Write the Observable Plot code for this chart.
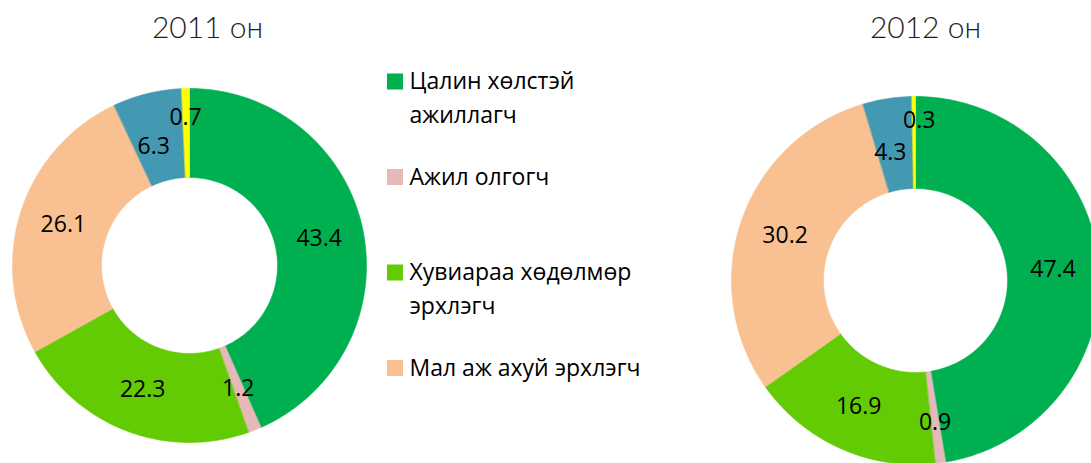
<!DOCTYPE html>
<html><head><meta charset="utf-8">
<script src="https://cdn.jsdelivr.net/npm/d3@7"></script>
<script src="https://cdn.jsdelivr.net/npm/@observablehq/plot@0.6"></script>
<style>body{margin:0;background:#fff}svg{display:block}</style>
</head><body><div id="chart"></div>
<script>
// ---- data ----
const years = ["2011 он", "2012 он"];
const categories = ["Цалин хөлстэй\nажиллагч", "Ажил олгогч", "Хувиараа хөдөлмөр\nэрхлэгч", "Мал аж ахуй эрхлэгч", "", ""];
const values2011 = [43.4, 1.2, 22.3, 26.1, 6.3, 0.7];
const values2012 = [47.4, 0.9, 16.9, 30.2, 4.3, 0.3];
const colors = ["#00B050", "#E6B9B8", "#63CB04", "#F9C191", "#4499B2", "#FFFF00"];
const legendCount = 4;

// ---- layout ----
const W = 1091, H = 463;
const donuts = [
  {title: years[0], values: values2011, cx: 189, cy: 265, R: 177, r: 88, tx: 207, nudge: {4: [-4, 10], 5: [-1, -15]}},
  {title: years[1], values: values2012, cx: 915, cy: 280, R: 184, r: 92, tx: 925, nudge: {1: [1, 5], 4: [-4, 8], 5: [5, -22]}}
];

const slicePts = [], labels = [], titles = [];
donuts.forEach((d, di) => {
  const arcs = d3.pie().sort(null).value(v => v).startAngle(0).endAngle(2 * Math.PI)(d.values);
  titles.push({x: d.tx, y: 28, text: d.title});
  arcs.forEach((a, i) => {
    const key = di + "-" + i;
    const n = Math.max(2, Math.ceil((a.endAngle - a.startAngle) / (Math.PI / 180)));
    const ang = d3.range(n + 1).map(k => a.startAngle + (a.endAngle - a.startAngle) * k / n);
    ang.forEach(t => slicePts.push({key, color: colors[i], x: d.cx + d.R * Math.sin(t), y: d.cy - d.R * Math.cos(t)}));
    ang.slice().reverse().forEach(t => slicePts.push({key, color: colors[i], x: d.cx + d.r * Math.sin(t), y: d.cy - d.r * Math.cos(t)}));
    const m = (a.startAngle + a.endAngle) / 2, rm = (d.R + d.r) / 2;
    const nd = d.nudge[i] || [0, 0];
    labels.push({x: d.cx + rm * Math.sin(m) + nd[0], y: d.cy - rm * Math.cos(m) + nd[1], text: a.data.toFixed(1)});
  });
});

const legendBoxes = [], legendText = [];
categories.slice(0, legendCount).forEach((c, i) => {
  const yc = 81.5 + i * 95.5;
  legendBoxes.push({x1: 387, x2: 403, y1: yc - 8, y2: yc + 8, color: colors[i]});
  c.split("\n").forEach((line, j) => legendText.push({x: 409, y: yc + j * 34, text: line}));
});

const chart = Plot.plot({
  width: W, height: H, margin: 0,
  x: {domain: [0, W], range: [0, W], axis: null},
  y: {domain: [0, H], range: [0, H], axis: null},
  color: {type: "identity"},
  style: {fontFamily: "'Open Sans', sans-serif", background: "#fff"},
  marks: [
    Plot.line(slicePts, {x: "x", y: "y", z: "key", fill: "color", stroke: "color", strokeWidth: 0.6, curve: "linear-closed"}),
    Plot.text(labels, {x: "x", y: "y", text: "text", fontSize: 23, fill: "#000", lineAnchor: "middle"}),
    Plot.text(titles, {x: "x", y: "y", text: "text", fontSize: 30, fill: "#1e1e1e", fontFamily: "Lato, sans-serif", fontWeight: 300, lineAnchor: "middle"}),
    Plot.rect(legendBoxes, {x1: "x1", x2: "x2", y1: "y1", y2: "y2", fill: "color"}),
    Plot.text(legendText, {x: "x", y: "y", text: "text", fontSize: 23, fill: "#000", textAnchor: "start", lineAnchor: "middle"})
  ]
});
document.getElementById("chart").appendChild(chart);
</script>
</body></html>
